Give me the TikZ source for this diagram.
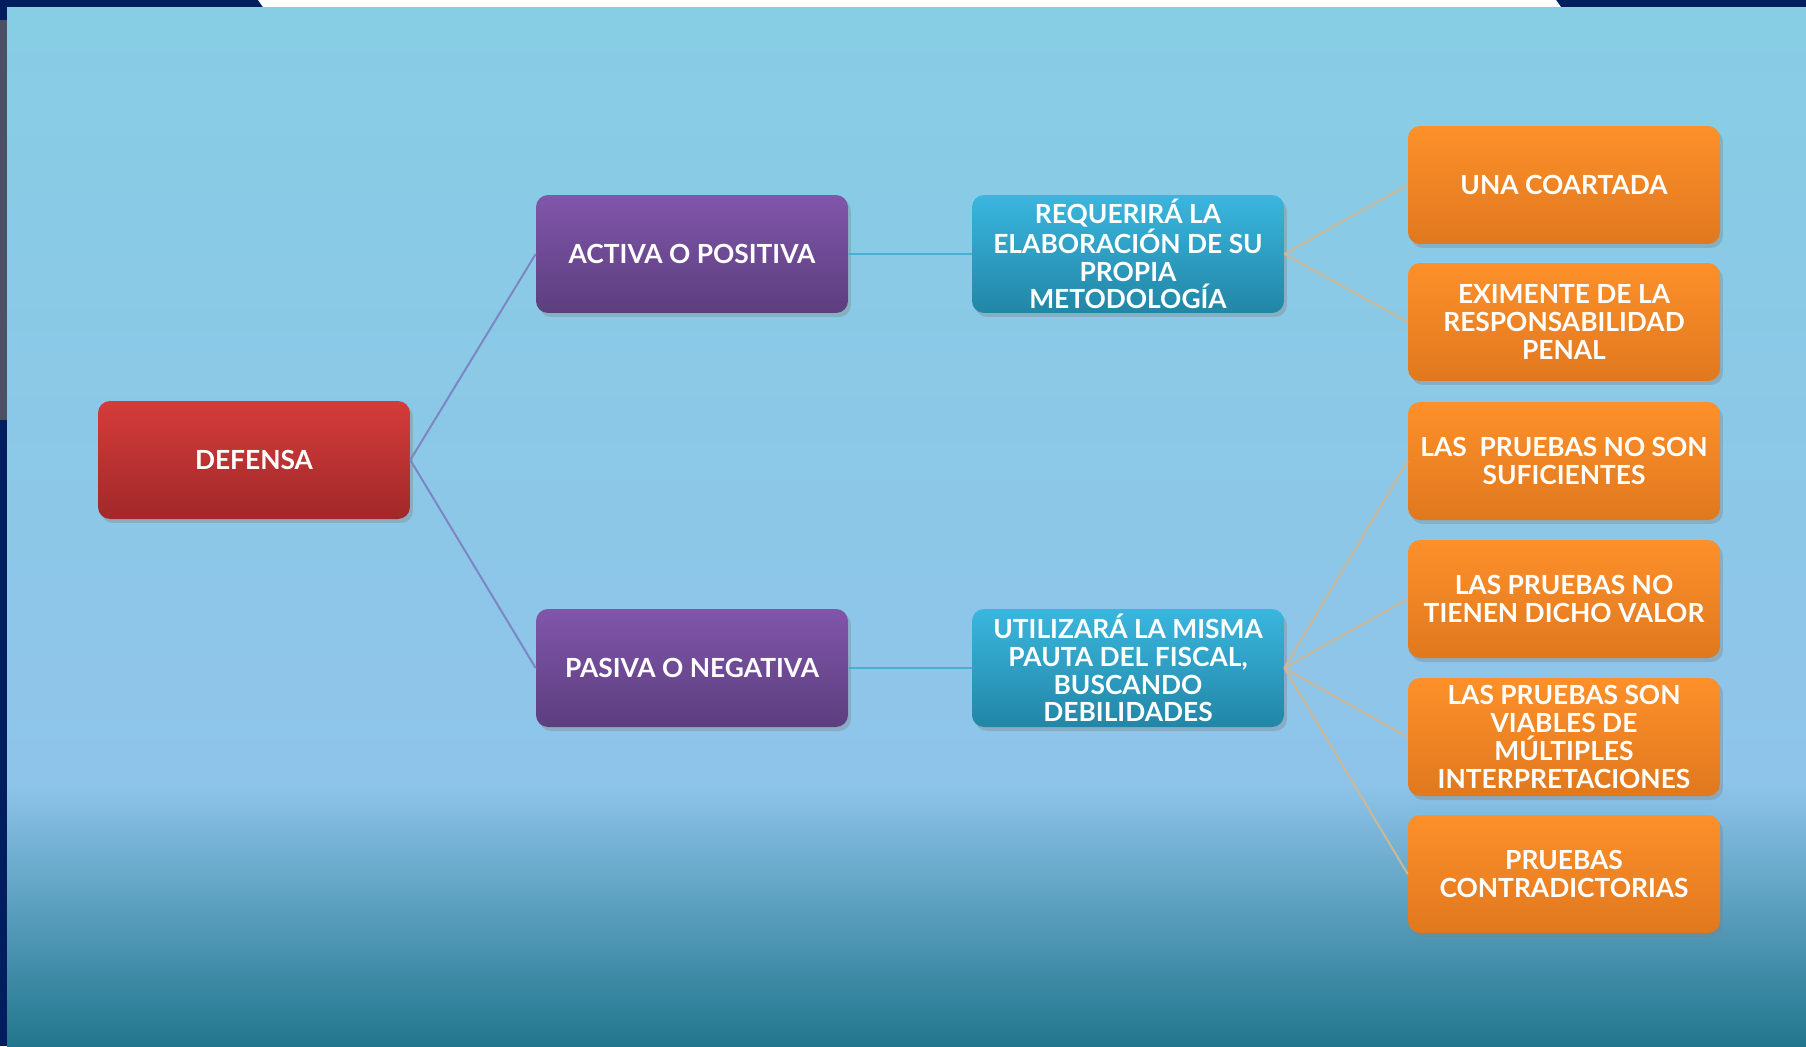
\documentclass[tikz,border=0pt]{standalone}
\usepackage{fontspec}
\setmainfont{Lato}
\usepackage{tikz}
\usetikzlibrary{shadows}

\definecolor{navy}{RGB}{0,30,94}
\definecolor{slate}{RGB}{76,80,100}
\definecolor{bgtop}{RGB}{135,205,228}
\definecolor{bgmid}{RGB}{143,196,234}
\definecolor{bgbot}{RGB}{34,118,142}
\definecolor{redtop}{RGB}{212,60,58}
\definecolor{redbot}{RGB}{162,40,42}
\definecolor{purtop}{RGB}{128,86,170}
\definecolor{purbot}{RGB}{92,62,126}
\definecolor{teatop}{RGB}{58,182,222}
\definecolor{teabot}{RGB}{34,134,166}
\definecolor{orgtop}{RGB}{253,144,42}
\definecolor{orgbot}{RGB}{224,120,30}
\definecolor{purline}{RGB}{124,134,196}
\definecolor{tealine}{RGB}{74,175,208}
\definecolor{tanline}{RGB}{204,184,150}

\tikzset{
  box/.style={rounded corners=0.24cm, minimum width=6.24cm, minimum height=2.36cm,
    align=center, text=white, inner sep=2pt, font=\bfseries\fontsize{15}{15.8}\selectfont,
    drop shadow={opacity=0.35, shadow xshift=0.06cm, shadow yshift=-0.08cm}},
  redbox/.style={box, top color=redtop, bottom color=redbot},
  purbox/.style={box, top color=purtop, bottom color=purbot},
  teabox/.style={box, top color=teatop, bottom color=teabot},
  orgbox/.style={box, top color=orgtop, bottom color=orgbot},
  link/.style={line width=0.04cm}
}

\begin{document}
\begin{tikzpicture}[x=0.02cm,y=-0.02cm]
\useasboundingbox (0,0) rectangle (1806,1046);

\fill[navy] (0,0) rectangle (1806,1046);
\fill[slate] (0,20) rectangle (7,420);
\fill[white] (258,0) -- (1556,0) -- (1561,7) -- (263,7) -- cycle;
\shade[top color=bgtop, bottom color=bgmid] (7,7) rectangle (1806,782);
\shade[top color=bgmid, bottom color=bgbot] (7,782) rectangle (1806,1046);

\node[redbox] (d1) at (254,460) {DEFENSA};

\node[purbox] (a1) at (692,254) {ACTIVA O POSITIVA};
\node[purbox] (a2) at (692,668) {PASIVA O NEGATIVA};

\node[teabox] (b1) at (1128,254) {REQUERIRÁ LA\\ELABORACIÓN DE SU\\PROPIA\\METODOLOGÍA};
\node[teabox] (b2) at (1128,668) {UTILIZARÁ LA MISMA\\PAUTA DEL FISCAL,\\BUSCANDO\\DEBILIDADES};

\node[orgbox] (c1) at (1564,185) {UNA COARTADA};
\node[orgbox] (c2) at (1564,322) {EXIMENTE DE LA\\RESPONSABILIDAD\\PENAL};
\node[orgbox] (c3) at (1564,461) {LAS~ PRUEBAS NO SON\\SUFICIENTES};
\node[orgbox] (c4) at (1564,599) {LAS PRUEBAS NO\\TIENEN DICHO VALOR};
\node[orgbox] (c5) at (1564,737) {LAS PRUEBAS SON\\VIABLES DE\\MÚLTIPLES\\INTERPRETACIONES};
\node[orgbox] (c6) at (1564,874) {PRUEBAS\\CONTRADICTORIAS};

\draw[link, purline] (d1.east) -- (a1.west);
\draw[link, purline] (d1.east) -- (a2.west);

\draw[link, tealine] (a1.east) -- (b1.west);
\draw[link, tealine] (a2.east) -- (b2.west);

\draw[link, tanline] (b1.east) -- (c1.west);
\draw[link, tanline] (b1.east) -- (c2.west);
\draw[link, tanline] (b2.east) -- (c3.west);
\draw[link, tanline] (b2.east) -- (c4.west);
\draw[link, tanline] (b2.east) -- (c5.west);
\draw[link, tanline] (b2.east) -- (c6.west);

\end{tikzpicture}
\end{document}
